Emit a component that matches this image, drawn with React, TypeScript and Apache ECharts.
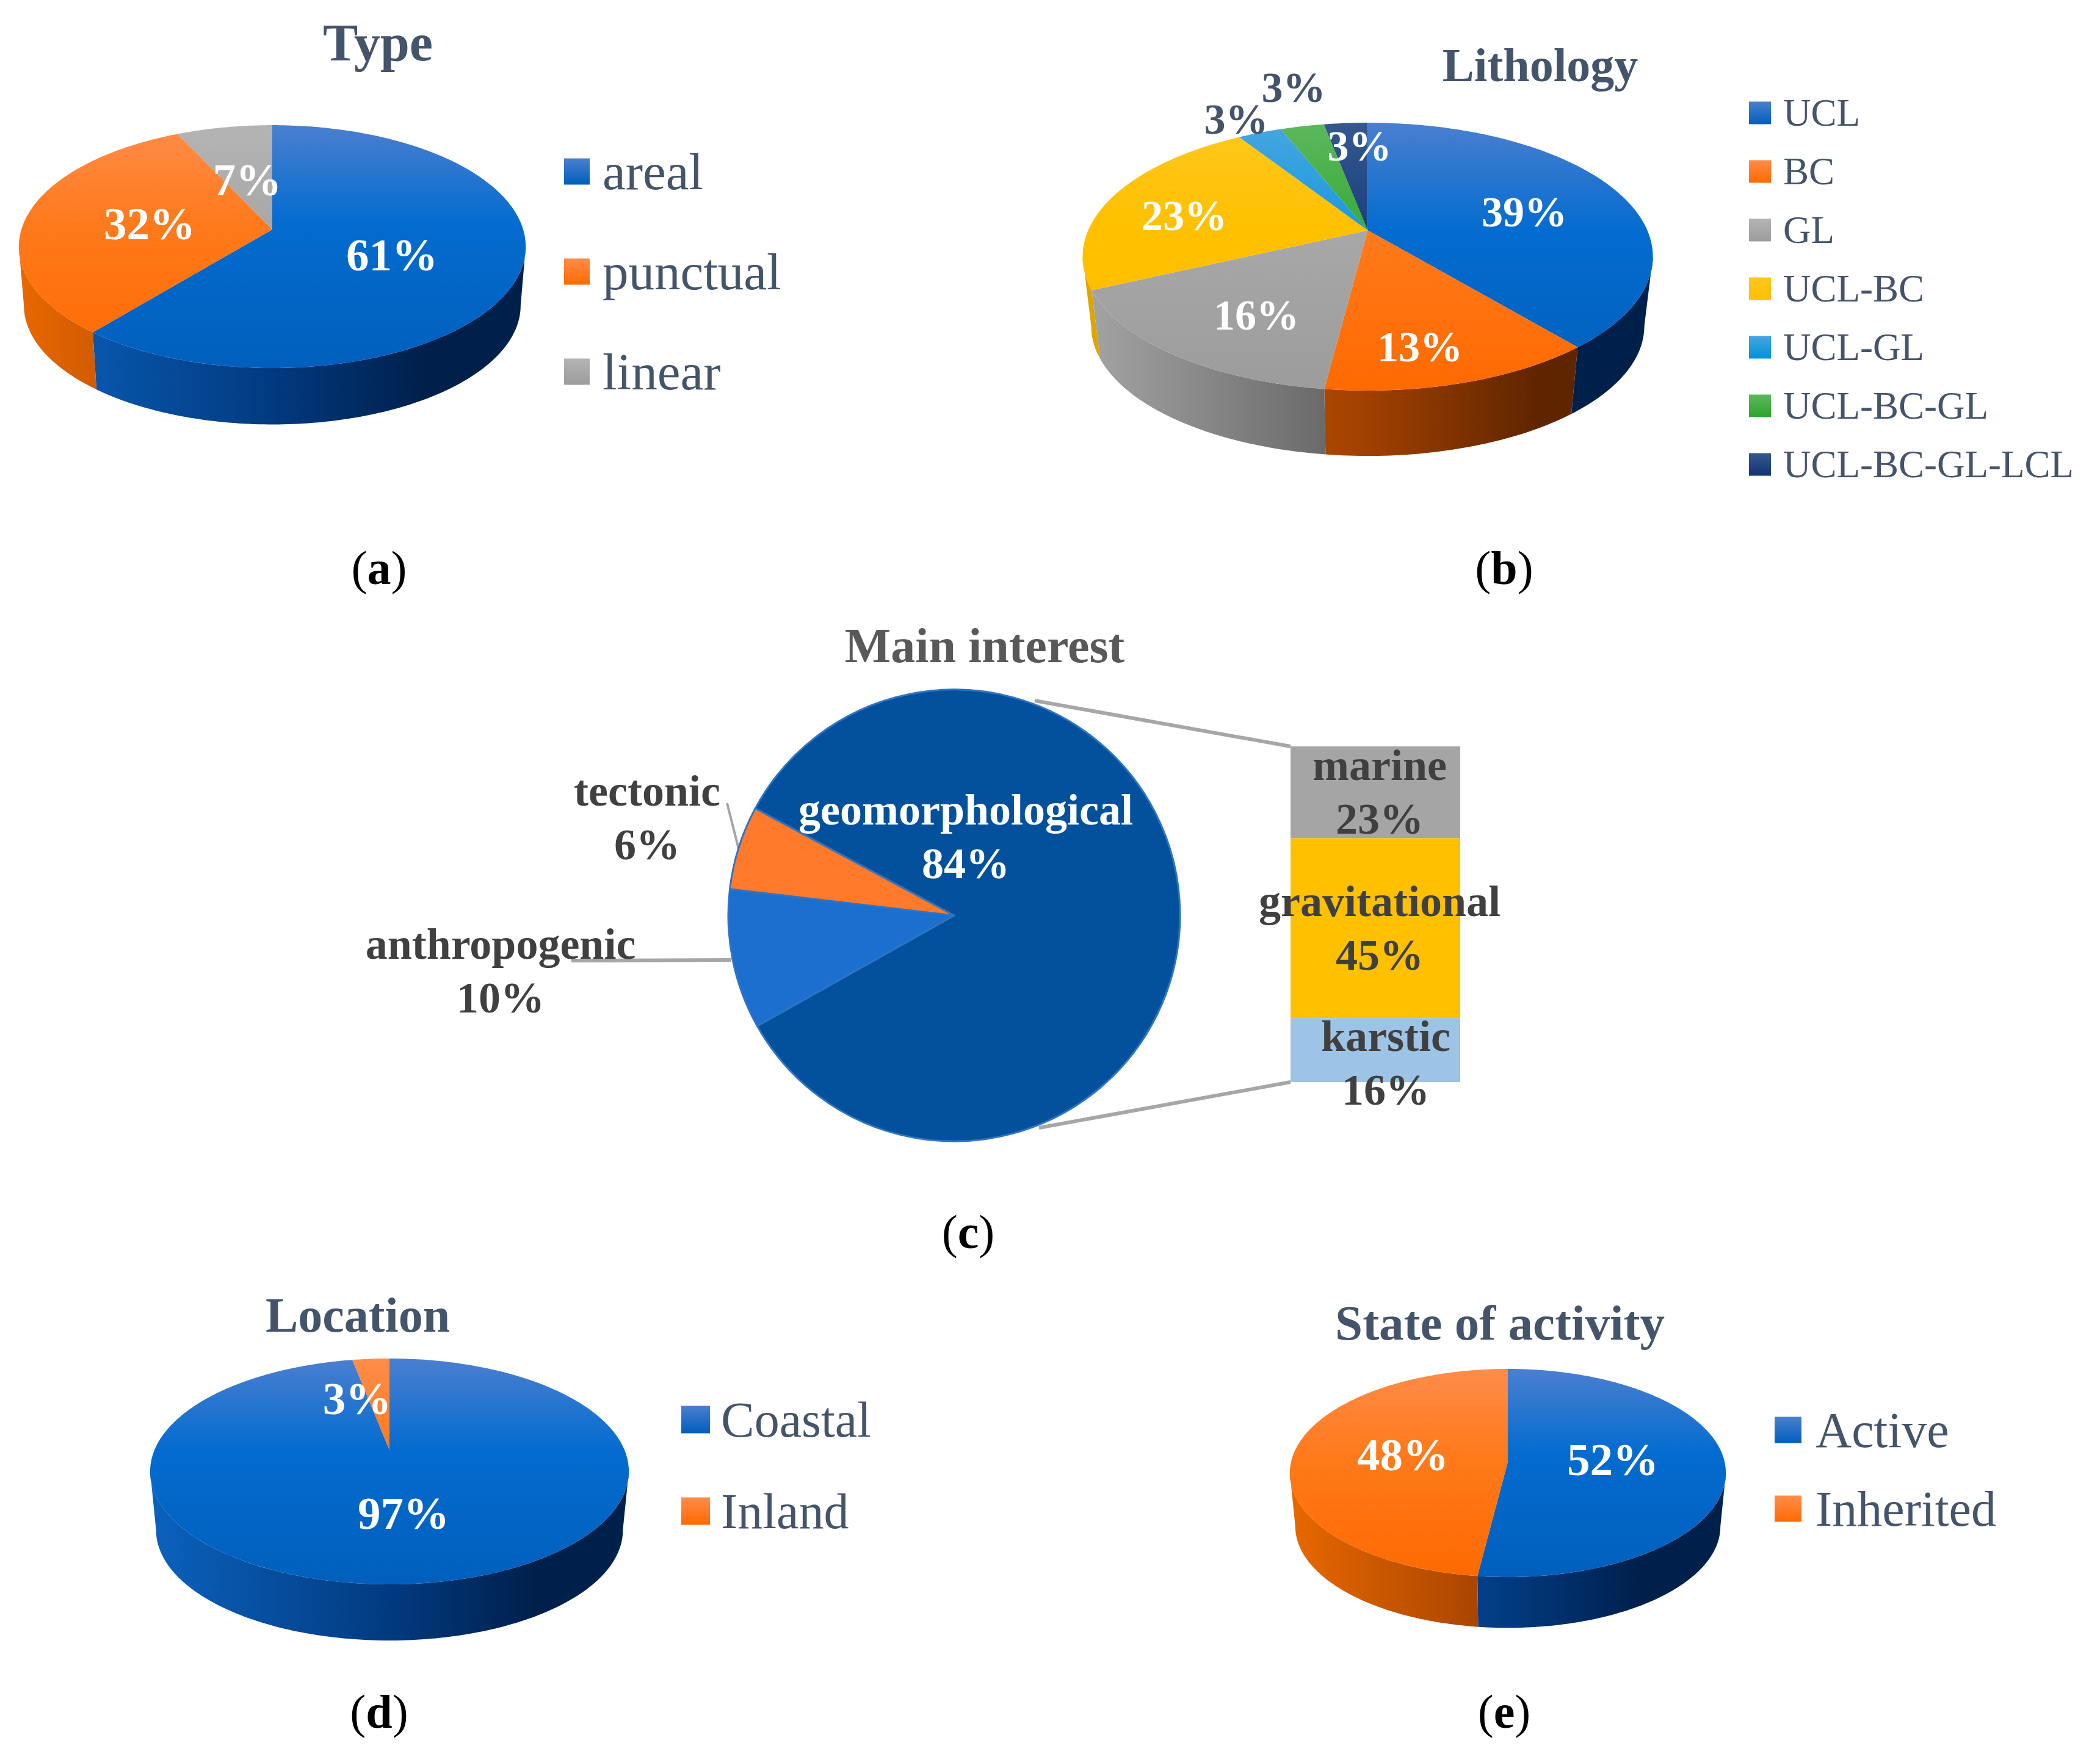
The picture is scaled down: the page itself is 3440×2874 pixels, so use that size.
import React, { useEffect, useRef } from "react";
import * as echarts from "echarts";

const typeCategories = ["areal", "punctual", "linear"];
const typeValues = [61, 32, 7];
const lithologyCategories = ["UCL", "BC", "GL", "UCL-BC", "UCL-GL", "UCL-BC-GL", "UCL-BC-GL-LCL"];
const lithologyValues = [39, 13, 16, 23, 3, 3, 3];
const interestCategories = ["geomorphological", "anthropogenic", "tectonic"];
const interestValues = [84, 10, 6];
const detailCategories = ["marine", "gravitational", "karstic"];
const detailValues = [23, 45, 16];
const locationCategories = ["Coastal", "Inland"];
const locationValues = [97, 3];
const activityCategories = ["Active", "Inherited"];
const activityValues = [52, 48];

const FONT = "Liberation Serif";
const SLATE = "#44546a";
const DARK = "#404040";

type Shade = { top: string[]; wall: string[] };
const BLUE: Shade = { top: ["#4a7fcf", "#046cd0", "#005fbc"], wall: ["#0a62bd", "#023a80", "#00204c"] };
const ORANGE: Shade = { top: ["#ff8c4a", "#ff7a1c", "#ff6a00"], wall: ["#e86800", "#a04000", "#5f2500"] };
const GREY: Shade = { top: ["#b4b4b4", "#a8a8a8", "#9c9c9c"], wall: ["#a5a5a5", "#606060", "#454545"] };
const YELLOW: Shade = { top: ["#ffc81e", "#ffc000", "#ffbe00"], wall: ["#e0a800", "#8f6c00", "#604800"] };
const SKY: Shade = { top: ["#46a6e0", "#1a9ade", "#0093d8"], wall: ["#0087c5", "#00547a", "#003750"] };
const GREEN: Shade = { top: ["#5cb85c", "#38ab38", "#2ca52c"], wall: ["#289628", "#155c15", "#0c3c0c"] };
const NAVY: Shade = { top: ["#34588f", "#1c3f7c", "#123472"], wall: ["#123472", "#0c2450", "#081a38"] };

type Layout = {
  cx: number; apexY: number; A: number; B: number; k: number; s: number; h: number;
  fontSize: number;
  shades: Shade[];
  labelPos: [number, number][];
  labelColor: string[];
};

const typeLayout: Layout = {
  cx: 446, apexY: 376, A: 411, B: 195, k: 0.141, s: 0.98, h: 97, fontSize: 75,
  shades: [BLUE, ORANGE, GREY],
  labelPos: [[642, 417], [245, 366], [405, 294]],
  labelColor: ["#fff", "#fff", "#fff"],
};
const lithologyLayout: Layout = {
  cx: 2240.5, apexY: 377.5, A: 458, B: 211, k: 0.196, s: 0.97, h: 115, fontSize: 70,
  shades: [BLUE, ORANGE, GREY, YELLOW, SKY, GREEN, NAVY],
  labelPos: [[2497, 347], [2326, 568], [2058, 516], [1940, 353], [2025, 195], [2119, 143], [2227, 239]],
  labelColor: ["#fff", "#fff", "#fff", "#fff", SLATE, SLATE, "#fff"],
};
const locationLayout: Layout = {
  cx: 638, apexY: 2376, A: 385, B: 178.4, k: 0.189, s: 0.975, h: 97.5, fontSize: 75,
  shades: [BLUE, ORANGE],
  labelPos: [[661, 2479], [585, 2291]],
  labelColor: ["#fff", "#fff"],
};
const activityLayout: Layout = {
  cx: 2470, apexY: 2395, A: 355, B: 168.5, k: 0.1085, s: 0.975, h: 88, fontSize: 75,
  shades: [BLUE, ORANGE],
  labelPos: [[2642, 2391], [2298, 2383]],
  labelColor: ["#fff", "#fff"],
};

function project(l: Layout, deg: number, scale = 1, dy = 0): [number, number] {
  const t = (deg * Math.PI) / 180;
  const u = Math.sin(t);
  const v = -Math.cos(t);
  const w = 1 - l.k * v;
  return [l.cx + (scale * l.A * u) / w, l.apexY + dy + (scale * l.B * v) / w];
}

function arc(l: Layout, from: number, to: number, scale = 1, dy = 0) {
  const pts: [number, number][] = [];
  const n = Math.max(2, Math.ceil(to - from));
  for (let i = 0; i <= n; i++) pts.push(project(l, from + ((to - from) * i) / n, scale, dy));
  return pts;
}

function sliceSeries(names: string[], values: number[], l: Layout) {
  const total = values.reduce((a, b) => a + b, 0);
  let acc = 0;
  return names.map((name, i) => {
    const start = (acc / total) * 360;
    acc += values[i];
    const end = (acc / total) * 360;
    const shade = l.shades[i];
    return {
      type: "custom",
      name,
      coordinateSystem: "none",
      silent: true,
      itemStyle: { color: shade.top[1] },
      data: [[values[i]]],
      renderItem: () => {
        const topEdge = l.apexY - l.B / (1 + l.k);
        const botEdge = l.apexY + l.B / (1 - l.k);
        const xMax = l.A / Math.sqrt(1 - l.k * l.k);
        const silhouette = (Math.acos(-l.k) * 180) / Math.PI;
        const wFrom = Math.max(start, silhouette);
        const wTo = Math.min(end, 360 - silhouette);
        const children: any[] = [];
        if (wTo > wFrom) {
          const upper = arc(l, wFrom, wTo);
          const lower = arc(l, wFrom, wTo, l.s, l.h).reverse();
          children.push({
            type: "polygon",
            z2: 1,
            shape: { points: [...upper, ...lower] },
            style: {
              fill: {
                type: "linear", global: true,
                x: l.cx - xMax, y: 0, x2: l.cx + xMax, y2: 0,
                colorStops: [
                  { offset: 0, color: shade.wall[0] },
                  { offset: 0.5, color: shade.wall[1] },
                  { offset: 0.8, color: shade.wall[2] },
                  { offset: 1, color: shade.wall[2] },
                ],
              },
            },
          });
        }
        children.push({
          type: "polygon",
          z2: 2,
          shape: { points: [[l.cx, l.apexY], ...arc(l, start, end)] },
          style: {
            fill: {
              type: "linear", global: true,
              x: 0, y: topEdge, x2: 0, y2: botEdge,
              colorStops: [
                { offset: 0, color: shade.top[0] },
                { offset: 0.4, color: shade.top[1] },
                { offset: 1, color: shade.top[2] },
              ],
            },
          },
        });
        children.push({
          type: "text",
          z2: 5,
          x: l.labelPos[i][0],
          y: l.labelPos[i][1],
          style: {
            text: `${values[i]}%`,
            fontFamily: FONT,
            fontWeight: "bold",
            fontSize: l.fontSize,
            fill: l.labelColor[i],
            align: "center",
            verticalAlign: "middle",
          },
        });
        return { type: "group", children };
      },
    };
  });
}

function makeLegend(names: string[], shades: Shade[], left: number, centerY: number, step: number, icon: [number, number], fontSize: number, textGap: number) {
  return {
    show: true,
    orient: "vertical",
    left,
    top: centerY - fontSize / 2,
    padding: 0,
    selectedMode: false,
    itemWidth: icon[0],
    itemHeight: icon[1],
    itemGap: step - fontSize,
    textStyle: {
      fontFamily: FONT,
      fontSize,
      color: SLATE,
      padding: [0, 0, 0, textGap],
    },
    data: names.map((name, i) => ({
      name,
      icon: "rect",
      itemStyle: {
        color: {
          type: "linear", x: 0, y: 0, x2: 0, y2: 1,
          colorStops: [
            { offset: 0, color: shades[i].top[0] },
            { offset: 1, color: shades[i].top[2] },
          ],
        },
      },
    })),
  };
}

function makeTitle(text: string, x: number, y: number, fontSize: number, color = SLATE) {
  return {
    text,
    left: x,
    top: y,
    padding: 0,
    textAlign: "center",
    textVerticalAlign: "middle",
    textStyle: { fontFamily: FONT, fontWeight: "bold", fontSize, color },
  };
}

function caption(letter: string, x: number, y: number) {
  return {
    type: "text",
    x,
    y,
    style: {
      text: `{p|(}{b|${letter}}{p|)}`,
      align: "center",
      verticalAlign: "middle",
      rich: {
        p: { fontFamily: FONT, fontSize: 78, fill: "#000" },
        b: { fontFamily: FONT, fontSize: 78, fontWeight: "bold", fill: "#000" },
      },
    },
  };
}

function connector(x1: number, y1: number, x2: number, y2: number, lineWidth = 6) {
  return {
    type: "line",
    z: 0,
    shape: { x1, y1, x2, y2 },
    style: { stroke: "#a6a6a6", lineWidth },
  };
}

const pieColors = ["#03519c", "#1a6fcf", "#ff7a2a"];
const pieLabelColors = ["#fff", DARK, DARK];
const pieLabelPos: [number, number][] = [[1582, 1371], [820, 1591], [1060, 1340]];
const detailColors = ["#a5a5a5", "#ffc000", "#9dc3e6"];
const detailOffsets: [number, number][] = [[7, 0], [7, 0], [17, 21]];

const option: any = {
  animation: false,
  backgroundColor: "#fff",
  title: [
    makeTitle("Type", 619, 70, 86),
    makeTitle("Lithology", 2523, 106, 78),
    makeTitle("Main interest", 1613, 1058, 80, "#595959"),
    makeTitle("Location", 586, 2155, 80),
    makeTitle("State of activity", 2457, 2168, 81),
  ],
  legend: [
    makeLegend(typeCategories, typeLayout.shades, 924, 281, 164, [42, 43], 85, 16),
    makeLegend(lithologyCategories, lithologyLayout.shades, 2865, 185, 96, [36, 37], 63, 15),
    makeLegend(locationCategories, locationLayout.shades, 1116, 2326, 150, [47, 45], 82, 13),
    makeLegend(activityCategories, activityLayout.shades, 2907, 2343, 129, [44, 43], 82, 18),
  ],
  grid: [{ left: 2114, top: 1223, width: 278, height: 550 }],
  xAxis: [{ type: "category", show: false, data: ["detail"] }],
  yAxis: [{ type: "value", show: false, min: 0, max: 84, inverse: true }],
  graphic: {
    elements: [
      caption("a", 621, 930),
      caption("b", 2464, 930),
      caption("c", 1586, 2018),
      caption("d", 621, 2804),
      caption("e", 2464, 2804),
      connector(1695, 1148, 2114, 1223),
      connector(1702, 1848, 2114, 1773),
      connector(1191, 1316, 1210, 1391, 4),
      connector(936, 1574, 1198, 1573),
    ],
  },
  series: [
    ...sliceSeries(typeCategories, typeValues, typeLayout),
    ...sliceSeries(lithologyCategories, lithologyValues, lithologyLayout),
    ...sliceSeries(locationCategories, locationValues, locationLayout),
    ...sliceSeries(activityCategories, activityValues, activityLayout),
    {
      type: "pie",
      center: [1563, 1500],
      radius: 370,
      startAngle: 151.7,
      clockwise: true,
      silent: true,
      itemStyle: { borderColor: "#2f74c4", borderWidth: 3 },
      label: {
        show: true,
        position: "inside",
        formatter: "{b}\n{c}%",
        fontFamily: FONT,
        fontWeight: "bold",
        fontSize: 72,
        lineHeight: 88,
      },
      labelLine: { show: false },
      labelLayout: (p: any) => ({
        x: pieLabelPos[p.dataIndex][0],
        y: pieLabelPos[p.dataIndex][1],
        align: "center",
        verticalAlign: "middle",
      }),
      data: interestCategories.map((name, i) => ({
        name,
        value: interestValues[i],
        itemStyle: { color: pieColors[i] },
        label: { color: pieLabelColors[i] },
      })),
    },
    ...detailCategories.map((name, i) => ({
      type: "bar",
      name,
      stack: "detail",
      barWidth: "100%",
      silent: true,
      itemStyle: { color: detailColors[i] },
      label: {
        show: true,
        position: "inside",
        offset: detailOffsets[i],
        formatter: "{a}\n{c}%",
        fontFamily: FONT,
        fontWeight: "bold",
        fontSize: 72,
        lineHeight: 88,
        color: DARK,
      },
      data: [detailValues[i]],
    })),
  ],
};

export default function App() {
  const ref = useRef<HTMLDivElement>(null);
  useEffect(() => {
    const chart = echarts.init(ref.current!, undefined, { renderer: "svg" });
    chart.setOption(option);
    return () => chart.dispose();
  }, []);
  return <div ref={ref} style={{ position: "absolute", left: 0, top: 0, width: 3440, height: 2874 }} />;
}
